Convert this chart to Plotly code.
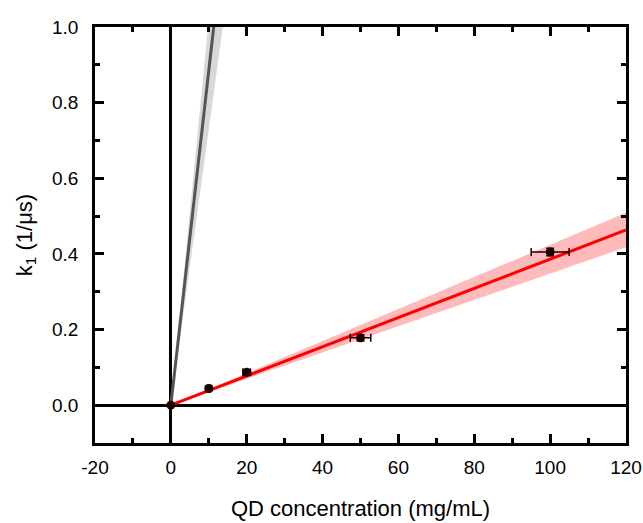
import numpy as np
import plotly.graph_objects as go

# Data
conc = [0, 10, 20, 50, 100]
k1 = [0.0, 0.044, 0.087, 0.178, 0.405]
conc_err = [0, 0.5, 1.0, 2.7, 5.0]
k1_err = [0.002, 0.006, 0.007, 0.008, 0.010]

# Fit parameters (lines through origin)
red_slope = 0.00386
red_slope_se = 0.00038
gray_slope = 0.0885
gray_slope_lo = 0.073
gray_slope_hi = 0.102

x_ticks = [-20, 0, 20, 40, 60, 80, 100, 120]
y_ticks = [0.0, 0.2, 0.4, 0.6, 0.8, 1.0]

fig = go.Figure()

# gray band + line
xg = np.array([0, 15])
fig.add_trace(go.Scatter(
    x=list(xg) + list(xg[::-1]),
    y=list(gray_slope_hi * xg) + list(gray_slope_lo * xg[::-1]),
    fill='toself', fillcolor='rgba(190,190,190,0.6)', line=dict(width=0),
    mode='lines', hoverinfo='skip', showlegend=False))
fig.add_trace(go.Scatter(x=xg, y=gray_slope * xg, mode='lines',
                         line=dict(color='#555555', width=3), showlegend=False))

# red band + line
xr = np.array([0, 120])
fig.add_trace(go.Scatter(
    x=list(xr) + list(xr[::-1]),
    y=list((red_slope + red_slope_se) * xr) + list((red_slope - red_slope_se) * xr[::-1]),
    fill='toself', fillcolor='rgba(255,120,120,0.5)', line=dict(width=0),
    mode='lines', hoverinfo='skip', showlegend=False))
fig.add_trace(go.Scatter(x=xr, y=red_slope * xr, mode='lines',
                         line=dict(color='#ff0000', width=3), showlegend=False))

# data points
fig.add_trace(go.Scatter(
    x=conc, y=k1, mode='markers',
    marker=dict(color='#1a0000', size=9),
    error_x=dict(type='data', array=conc_err, color='#1a0000', thickness=1.5, width=4),
    error_y=dict(type='data', array=k1_err, color='#1a0000', thickness=1.5, width=4),
    showlegend=False))

axis_common = dict(
    showline=True, linecolor='black', linewidth=2.5, mirror='ticks',
    ticks='inside', ticklen=9, tickwidth=2.5, tickcolor='black',
    showgrid=False, zeroline=True, zerolinecolor='black', zerolinewidth=2.5,
    automargin=False,
    tickfont=dict(family='Liberation Sans, Arial', size=19, color='black'),
)

fig.update_xaxes(
    range=[-20, 120], tickmode='array', tickvals=x_ticks, ticktext=[str(v) for v in x_ticks],
    minor=dict(ticks='inside', ticklen=5, tickwidth=2.5, tickcolor='black', dtick=10, tick0=0),
    ticklabelstandoff=5,
    title=dict(text='QD concentration (mg/mL)',
               font=dict(family='Liberation Sans, Arial', size=22, color='black'), standoff=25),
    **axis_common)
fig.update_yaxes(
    range=[-0.1, 1.0], tickmode='array', tickvals=y_ticks, ticktext=[f'{v:.1f}' for v in y_ticks],
    minor=dict(ticks='inside', ticklen=5, tickwidth=2.5, tickcolor='black', dtick=0.1, tick0=0),
    ticklabelstandoff=10,
    title=dict(text='k<sub>1</sub> (1/μs)',
               font=dict(family='Liberation Sans, Arial', size=22, color='black'), standoff=14),
    **axis_common)

fig.update_layout(
    width=643, height=523,
    margin=dict(l=95, r=17, t=27, b=80),
    plot_bgcolor='white', paper_bgcolor='white',
)

fig.write_html('out.html')
